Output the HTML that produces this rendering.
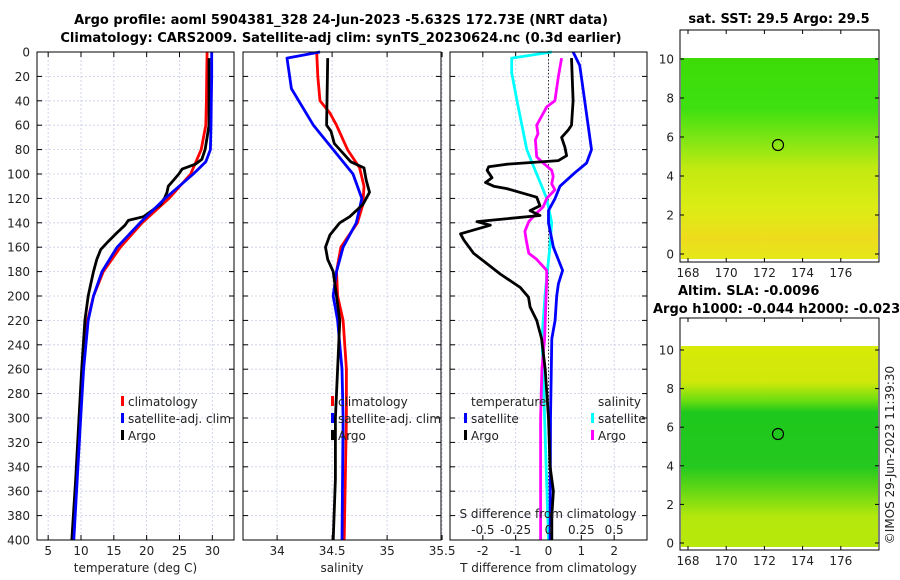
<!DOCTYPE html>
<html><head><meta charset="utf-8">
<style>
html,body{margin:0;padding:0;background:#fff;}
svg{display:block;font-family:"DejaVu Sans","Liberation Sans",sans-serif;}
.t{font-size:12px;fill:#222;}
.b{font-size:13px;font-weight:bold;fill:#000;}
</style></head>
<body>
<svg id="fig" width="900" height="580" viewBox="0 0 900 580">
<defs>
<linearGradient id="sstg" x1="0" y1="0" x2="0" y2="1">
<stop offset="0" stop-color="#3ddc08"/><stop offset="0.25" stop-color="#3ee010"/>
<stop offset="0.42" stop-color="#86e614"/><stop offset="0.55" stop-color="#c2ea10"/>
<stop offset="0.75" stop-color="#dcec14"/><stop offset="0.9" stop-color="#eedc1c"/><stop offset="1" stop-color="#e4e818"/>
</linearGradient>
<linearGradient id="slag" x1="0" y1="0" x2="0" y2="1">
<stop offset="0" stop-color="#d8ea08"/><stop offset="0.18" stop-color="#cfe80a"/>
<stop offset="0.27" stop-color="#6ede10"/><stop offset="0.33" stop-color="#1ec81c"/>
<stop offset="0.6" stop-color="#24c81e"/><stop offset="0.72" stop-color="#66d814"/>
<stop offset="0.85" stop-color="#b4e80c"/><stop offset="1" stop-color="#b8e80c"/>
</linearGradient>
</defs>
<g id="titles">
<text class="b" x="341" y="24" text-anchor="middle">Argo profile: aoml 5904381_328 24-Jun-2023 -5.632S 172.73E (NRT data)</text>
<text class="b" x="341" y="42" text-anchor="middle">Climatology: CARS2009. Satellite-adj clim: synTS_20230624.nc (0.3d earlier)</text>
</g>
<g id="panels"></g>
<g id="maps">
<text class="b" x="779" y="23" text-anchor="middle">sat. SST: 29.5 Argo: 29.5</text>
<rect x="680" y="30" width="199" height="232" fill="#fff" stroke="#000"/>
<rect x="681" y="58" width="197" height="201" fill="url(#sstg)"/>
<circle cx="778" cy="145" r="5.5" fill="none" stroke="#000" stroke-width="1.2"/>
<text class="b" x="678" y="295">Altim. SLA: -0.0096</text>
<text class="b" x="653" y="313">Argo h1000: -0.044 h2000: -0.023</text>
<rect x="680" y="318" width="199" height="232" fill="#fff" stroke="#000"/>
<rect x="681" y="346" width="197" height="201" fill="url(#slag)"/>
<circle cx="778" cy="434" r="5.5" fill="none" stroke="#000" stroke-width="1.2"/>
<text class="t" transform="translate(894,455) rotate(-90)" text-anchor="middle">©IMOS 29-Jun-2023 11:39:30</text>
</g>
</svg>
<script>
// ---- data ----
const tClimDepth=[0,20,40,60,80,100,120,140,160,180,200,220,260,300,400];
const tClimVal=[29.2,29.15,29.1,29.0,28.3,26.7,23.4,19.3,16.0,13.4,11.9,11.0,10.3,9.9,8.8];
const tSatDepth=[0,20,40,60,80,90,100,120,140,160,180,200,220,260,300,400];
const tSatVal=[29.9,29.9,29.85,29.8,29.7,29.0,27.1,22.8,19.0,15.5,13.2,11.9,11.1,10.4,9.95,8.9];
const tArgoDepth=[5,60,70,80,88,92,96,100,105,110,115,120,125,130,135,138,142,148,155,162,170,180,190,200,220,260,300,350,400];
const tArgoVal=[29.5,29.5,29.2,28.9,28.4,27.4,25.4,24.9,24.1,23.3,23.1,22.7,22.1,20.8,19.5,17.2,16.7,15.5,14.2,13.0,12.4,11.9,11.5,11.1,10.6,10.1,9.7,9.2,8.6];
const sClimDepth=[0,20,40,50,60,80,95,110,125,140,160,180,200,220,260,300,400];
const sClimVal=[34.36,34.37,34.39,34.48,34.54,34.64,34.75,34.79,34.78,34.73,34.58,34.54,34.55,34.60,34.63,34.63,34.61];
const sSatDepth=[0,5,30,60,80,100,120,140,160,180,200,220,260,300,400];
const sSatVal=[34.39,34.09,34.13,34.33,34.51,34.69,34.77,34.72,34.60,34.54,34.51,34.55,34.59,34.60,34.59];
const sArgoDepth=[5,60,65,75,90,95,105,115,125,135,140,150,160,170,180,200,220,260,300,350,400];
const sArgoVal=[34.46,34.45,34.49,34.52,34.67,34.79,34.81,34.84,34.78,34.66,34.57,34.48,34.44,34.46,34.51,34.54,34.57,34.55,34.53,34.53,34.51];
const dtSatDepth=[0,11,20,80,91,99,110,120,130,140,160,179,190,200,220,235,300,400];
const dtSatVal=[0.75,0.95,1.0,1.31,1.16,0.80,0.35,0.20,0.0,0.0,0.15,0.43,0.30,0.25,0.20,0.10,0.06,0.05];
const dtArgoDepth=[5,40,60,64,70,78,85,89,92,94,97,103,107,110,112,119,126,130,134,139,142,149,154,165,182,193,201,209,220,235,260,300,340,360,380,400];
const dtArgoVal=[0.70,0.75,0.70,0.60,0.40,0.50,0.55,0.30,-1.27,-1.82,-1.87,-1.72,-1.92,-1.67,-1.27,-0.36,-0.26,-0.56,-0.26,-2.18,-1.77,-2.68,-2.58,-2.28,-1.47,-0.86,-0.61,-0.56,-0.36,-0.21,-0.10,0.0,0.05,0.15,0.10,0.10];
const dsSatDepth=[0,5,17,40,80,100,120,140,160,180,200,235,260,300,400];
const dsSatVal=[0.024,-0.28,-0.28,-0.24,-0.165,-0.09,-0.014,0.024,0.011,-0.009,-0.027,-0.05,-0.04,-0.03,0.0];
const dsArgoDepth=[5,20,40,45,60,67,72,86,91,97,102,108,113,120,127,132,139,147,154,165,170,179,187,235,260,300,400];
const dsArgoVal=[0.10,0.075,0.049,-0.014,-0.09,-0.08,-0.10,-0.09,-0.04,0.024,0.036,0.024,0.049,-0.014,-0.04,-0.09,-0.15,-0.18,-0.17,-0.15,-0.09,-0.014,-0.014,-0.03,-0.05,-0.06,-0.06];
const depthTicks=[0,20,40,60,80,100,120,140,160,180,200,220,240,260,280,300,320,340,360,380,400];
const tTicks=[5,10,15,20,25,30];
const sTicks=[34,34.5,35,35.5];
const dtTicks=[-2,-1,0,1,2];
const dsTickLabels=["-0.5","-0.25","0","0.25","0.5"];
const dsTicks=[-0.5,-0.25,0,0.25,0.5];
const lonTicks=[168,170,172,174,176];
const latTicks=[0,2,4,6,8,10];

const NS="http://www.w3.org/2000/svg";
const root=document.getElementById('panels');
function mk(tag,attrs,parent,text){const e=document.createElementNS(NS,tag);for(const k in attrs)e.setAttribute(k,attrs[k]);if(text!==undefined)e.textContent=text;(parent||root).appendChild(e);return e;}
const Y0=52,Y1=540;
const yD=d=>Y0+(d/400)*(Y1-Y0);

const panels=[
 {x0:37,x1:234,lo:3.3,hi:33.3,ticks:tTicks,name:'temperature-panel',label:'temperature (deg C)',ylabels:true},
 {x0:243,x1:441,lo:33.69,hi:35.49,ticks:sTicks,name:'salinity-panel',label:'salinity'},
 {x0:450,x1:647,lo:-3,hi:3,ticks:dtTicks,name:'difference-panel',label:'T difference from climatology'}
];
panels.forEach(p=>{p.sx=v=>p.x0+(v-p.lo)/(p.hi-p.lo)*(p.x1-p.x0);});

panels.forEach((p,i)=>{
 const g=mk('g',{});
 
 
 p.g=g;
 depthTicks.forEach(d=>{
  const l=mk('line',{x1:p.x0,x2:p.x1,y1:yD(d),y2:yD(d),stroke:'#c8cce6','stroke-width':0.8,'stroke-dasharray':'2,2'},g);
  
  
  mk('line',{x1:p.x0,x2:p.x0+5,y1:yD(d),y2:yD(d),stroke:'#000'},g);
  mk('line',{x1:p.x1-5,x2:p.x1,y1:yD(d),y2:yD(d),stroke:'#000'},g);
  if(p.ylabels){const t=mk('text',{x:30,y:yD(d)+4.5,'text-anchor':'end',class:'t'},g,String(d));
   
   }
 });
 p.ticks.forEach(v=>{
  const x=p.sx(v);
  const l=mk('line',{x1:x,x2:x,y1:Y0,y2:Y1,stroke:'#c8cce6','stroke-width':0.8,'stroke-dasharray':'2,2'},g);
  
  
  mk('line',{x1:x,x2:x,y1:Y1-5,y2:Y1,stroke:'#000'},g);
  mk('line',{x1:x,x2:x,y1:Y0,y2:Y0+5,stroke:'#000'},g);
  const t=mk('text',{x:x,y:555,'text-anchor':'middle',class:'t'},g,String(v));
  
  
 });
 const at=mk('text',{x:(p.x0+p.x1)/2,y:572,'text-anchor':'middle',class:'t'},g,p.label);
 
 
});

function line(p,depths,vals,color,name,scale){
 const s=scale||p.sx;
 const pts=depths.map((d,i)=>s(vals[i]).toFixed(1)+','+yD(d).toFixed(1)).join(' ');
 const e=mk('polyline',{points:pts,fill:'none',stroke:color,'stroke-width':2.8,'stroke-linejoin':'round'},p.g);
 
 
}
const P=panels;
line(P[0],tClimDepth,tClimVal,'#ff0000','temperature-climatology-line');
line(P[0],tArgoDepth,tArgoVal,'#000000','temperature-argo-line');
line(P[0],tSatDepth,tSatVal,'#0000ff','temperature-satellite-line');
line(P[1],sClimDepth,sClimVal,'#ff0000','salinity-climatology-line');
line(P[1],sSatDepth,sSatVal,'#0000ff','salinity-satellite-line');
line(P[1],sArgoDepth,sArgoVal,'#000000','salinity-argo-line');
const z=mk('line',{x1:P[2].sx(0),x2:P[2].sx(0),y1:Y0,y2:Y1,stroke:'#333','stroke-width':1,'stroke-dasharray':'1.5,2'},P[2].g);


const sS=v=>P[2].sx(v*4);
line(P[2],dsSatDepth,dsSatVal,'#00ffff','s-diff-satellite-line',sS);
line(P[2],dsArgoDepth,dsArgoVal,'#ff00ff','s-diff-argo-line',sS);
line(P[2],dtSatDepth,dtSatVal,'#0000ff','t-diff-satellite-line');
line(P[2],dtArgoDepth,dtArgoVal,'#000000','t-diff-argo-line');
const st=mk('text',{x:548,y:518,'text-anchor':'middle',class:'t'},P[2].g,'S difference from climatology');


dsTicks.forEach((v,i)=>{const t=mk('text',{x:sS(v),y:534,'text-anchor':'middle',class:'t'},P[2].g,dsTickLabels[i]);
 
 });
panels.forEach(p=>{const r=mk('rect',{x:p.x0,y:Y0,width:p.x1-p.x0,height:Y1-Y0,fill:'none',stroke:'#000','stroke-width':1},p.g);
 
 });
function leg(g,x,y,color,label){
 const e=mk('g',{},g);
 
 
 mk('rect',{x:x,y:y-10,width:3,height:10,fill:color},e);
 mk('text',{x:x+7,y:y,class:'t'},e,label);
}
[[P[0],121],[P[1],331]].forEach(([p,x])=>{
 leg(p.g,x,406,'#ff0000','climatology');
 leg(p.g,x,423,'#0000ff','satellite-adj. clim');
 leg(p.g,x,440,'#000000','Argo');
});
const lt=mk('text',{x:471,y:406,class:'t'},P[2].g,'temperature');


const ls=mk('text',{x:598,y:406,class:'t'},P[2].g,'salinity');


leg(P[2].g,464,423,'#0000ff','satellite');
leg(P[2].g,464,440,'#000000','Argo');
leg(P[2].g,591,423,'#00ffff','satellite');
leg(P[2].g,591,440,'#ff00ff','Argo');

const maps=document.getElementById('maps');
const lonX=v=>688+(v-168)*19.1;
[[30,262,59,254],[318,550,350,543]].forEach(([top,bot,y10,y0],mi)=>{
 latTicks.forEach(v=>{const y=y0+(y10-y0)*v/10;
  mk('line',{x1:680,x2:684,y1:y,y2:y,stroke:'#000'},maps);
  mk('line',{x1:875,x2:879,y1:y,y2:y,stroke:'#000'},maps);
  const t=mk('text',{x:674,y:y+4.5,'text-anchor':'end',class:'t'},maps,String(v));
  
  });
 lonTicks.forEach(v=>{const x=lonX(v);
  mk('line',{x1:x,x2:x,y1:bot-4,y2:bot,stroke:'#000'},maps);
  mk('line',{x1:x,x2:x,y1:top,y2:top+4,stroke:'#000'},maps);
  const t=mk('text',{x:x,y:bot+15,'text-anchor':'middle',class:'t'},maps,String(v));
  
  });
});
</script>
</body></html>
